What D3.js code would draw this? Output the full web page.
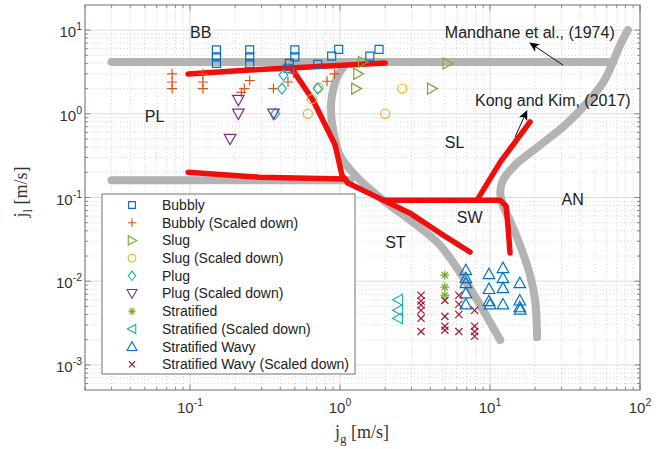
<!DOCTYPE html>
<html>
<head>
<meta charset="utf-8">
<script src="https://cdn.jsdelivr.net/npm/d3@7"></script>
<style>
body { margin: 0; background: #fff; }
text { font-family: "Liberation Sans", Arial, sans-serif; }
</style>
</head>
<body>
<div id="chart"></div>
<script>
// experimental points [jg, jl] in m/s
var bubbly = [[0.15, 5.8], [0.15, 4.8], [0.15, 4.0], [0.25, 5.8], [0.25, 4.8], [0.25, 4.0],
    [0.5, 5.8], [0.5, 4.8], [0.46, 4.0], [0.45, 3.5], [0.71, 3.9], [0.88, 4.9], [0.98, 5.9],
    [1.58, 4.9], [1.82, 5.9]];
var bubblyScaled = [[0.076, 3.0], [0.076, 2.4], [0.076, 2.0], [0.122, 3.0], [0.122, 2.4], [0.122, 2.0],
    [0.25, 2.5], [0.23, 2.0], [0.22, 1.8], [0.36, 2.0], [0.45, 2.4], [0.49, 3.05], [0.82, 2.45], [0.92, 3.0]];
var slug = [[1.42, 4.15], [1.32, 3.0], [1.28, 2.0], [5.2, 4.0], [4.1, 2.0]];
var slugScaled = [[0.65, 1.5], [0.61, 1.0], [0.72, 2.05], [2.6, 2.0], [2.0, 1.0]];
var plug = [[0.42, 2.9], [0.41, 2.0], [0.37, 1.0], [0.71, 2.0]];
var plugScaled = [[0.21, 1.46], [0.21, 1.0], [0.185, 0.5], [0.36, 1.0]];
var stratified = [[5.0, 0.0118], [5.0, 0.0085], [5.0, 0.0068]];
var stratifiedScaled = [[2.44, 0.006], [2.44, 0.0045], [2.44, 0.0036]];
var stratWavy = [[6.9, 0.0136], [6.9, 0.0109], [6.9, 0.0095], [6.9, 0.0072], [6.9, 0.0053],
    [9.85, 0.0122], [9.85, 0.0081], [9.85, 0.0058], [10.0, 0.0053],
    [12.2, 0.0144], [12.2, 0.0109], [12.2, 0.0083], [12.2, 0.0053],
    [15.8, 0.0095], [15.8, 0.0059], [15.8, 0.0049], [15.9, 0.0046]];
var stratWavyScaled = [[3.47, 0.0068], [3.47, 0.0058], [3.47, 0.0052], [3.47, 0.0045], [3.47, 0.0036], [3.47, 0.0025],
    [5.0, 0.0059], [5.0, 0.0038], [5.0, 0.0029], [5.0, 0.0026],
    [6.2, 0.0068], [6.2, 0.0053], [6.2, 0.004], [6.2, 0.0025],
    [7.9, 0.0045], [7.9, 0.0029], [7.9, 0.0025], [7.9, 0.0022]];

// Mandhane et al. (1974) boundaries
var mandhaneTop = [[0.03, 4.15], [66, 4.15]];
var mandhaneLow = [[0.03, 0.161], [1.17, 0.161]];
var mandhaneSL = [[1.13, 4.15], [0.97, 2.9], [0.885, 1.67], [0.87, 1.1], [0.9, 0.64], [1.0, 0.32],
    [1.26, 0.185], [1.94, 0.093], [2.93, 0.0537], [4.64, 0.027], [6.8, 0.0103], [9.0, 0.0045], [11.7, 0.00198]];
var mandhaneAN = [[83, 10], [73.6, 6.6], [66, 4.15], [58, 2.53], [46, 1.46], [31.6, 0.73], [21.5, 0.42],
    [14.7, 0.244], [12.2, 0.161], [11.7, 0.116], [12.2, 0.081], [14.0, 0.047], [16.3, 0.0236],
    [18.5, 0.0118], [20, 0.0059], [20.6, 0.00215]];

// Kong and Kim (2017) boundaries
var kongTop = [[0.097, 2.98], [0.25, 3.33], [0.46, 3.52], [2.0, 4.04]];
var kongDiag = [[0.48, 3.42], [0.66, 1.46], [0.93, 0.42], [1.03, 0.185], [1.13, 0.149]];
var kongLow = [[0.097, 0.20], [0.29, 0.175], [1.08, 0.166]];
var kongSW = [[1.13, 0.149], [1.94, 0.093], [11.7, 0.093], [12.8, 0.079], [13.2, 0.044], [13.6, 0.0217]];
var kongST = [[1.94, 0.093], [2.93, 0.065], [4.64, 0.0376], [7.36, 0.0223]];
var kongAN = [[8.2, 0.093], [11.7, 0.265], [18.5, 0.80]];

var xTicks = [-1, 0, 1, 2];
var yTicks = [-3, -2, -1, 0, 1];

// flow regime labels [text, jg, jl]
var regions = [["BB", 0.1, 9.5], ["PL", 0.05, 0.94], ["SL", 5.0, 0.46], ["AN", 30, 0.096], ["SW", 6.0, 0.058], ["ST", 2.0, 0.029]];

//Define Margin
var margin = {left: 85, right: 27, top: 5, bottom: 59},
    width = 667 - margin.left - margin.right,
    height = 449 - margin.top - margin.bottom;

var svg = d3.select("#chart")
    .append("svg")
    .attr("width", 667)
    .attr("height", 449);

var g = svg.append("g")
    .attr("transform", "translate(" + margin.left + "," + margin.top + ")");

var x = d3.scaleLog().domain([Math.pow(10, -1.7), 100]).range([0, width]);
var y = d3.scaleLog().domain([Math.pow(10, -3.3), Math.pow(10, 1.3)]).range([height, 0]);

g.append("defs").append("clipPath").attr("id", "clip")
    .append("rect").attr("width", width).attr("height", height);

// grid
var minorX = [], minorY = [];
for (var e = -2; e <= 2; e++) {
    for (var k = 2; k <= 9; k++) {
        var v = k * Math.pow(10, e);
        if (v > x.domain()[0] && v < x.domain()[1]) minorX.push(v);
    }
}
for (var e = -4; e <= 1; e++) {
    for (var k = 2; k <= 9; k++) {
        var v = k * Math.pow(10, e);
        if (v > y.domain()[0] && v < y.domain()[1]) minorY.push(v);
    }
}
var majorX = xTicks.map(function (d) { return Math.pow(10, d); });
var majorY = yTicks.map(function (d) { return Math.pow(10, d); });

var grid = g.append("g").attr("class", "grid");
grid.selectAll(".mx").data(minorX).enter().append("line")
    .attr("x1", x).attr("x2", x).attr("y1", 0).attr("y2", height)
    .attr("stroke", "#c8c8c8").attr("stroke-width", 0.8).attr("stroke-dasharray", "1,2.5");
grid.selectAll(".my").data(minorY).enter().append("line")
    .attr("y1", y).attr("y2", y).attr("x1", 0).attr("x2", width)
    .attr("stroke", "#c8c8c8").attr("stroke-width", 0.8).attr("stroke-dasharray", "1,2.5");
grid.selectAll(".gx").data(majorX).enter().append("line")
    .attr("x1", x).attr("x2", x).attr("y1", 0).attr("y2", height)
    .attr("stroke", "#dcdcdc").attr("stroke-width", 1);
grid.selectAll(".gy").data(majorY).enter().append("line")
    .attr("y1", y).attr("y2", y).attr("x1", 0).attr("x2", width)
    .attr("stroke", "#dcdcdc").attr("stroke-width", 1);

// axes, MATLAB style: ticks inside on all four sides
var axisColor = "#6e6e6e";
function tickLines(sel, vals, len, horiz) {
    vals.forEach(function (v) {
        if (horiz) {
            sel.append("line").attr("x1", x(v)).attr("x2", x(v)).attr("y1", height).attr("y2", height - len);
            sel.append("line").attr("x1", x(v)).attr("x2", x(v)).attr("y1", 0).attr("y2", len);
        } else {
            sel.append("line").attr("y1", y(v)).attr("y2", y(v)).attr("x1", 0).attr("x2", len);
            sel.append("line").attr("y1", y(v)).attr("y2", y(v)).attr("x1", width).attr("x2", width - len);
        }
    });
}
var ticks = g.append("g").attr("stroke", axisColor).attr("stroke-width", 0.8);
tickLines(ticks, majorX, 5.5, true);
tickLines(ticks, minorX, 3, true);
tickLines(ticks, majorY, 5.5, false);
tickLines(ticks, minorY, 3, false);

// Mandhane curves (gray)
var line = d3.line()
    .x(function (d) { return x(d[0]); })
    .y(function (d) { return y(d[1]); });
var smooth = d3.line()
    .x(function (d) { return x(d[0]); })
    .y(function (d) { return y(d[1]); })
    .curve(d3.curveCatmullRom);

var curves = g.append("g").attr("clip-path", "url(#clip)").attr("fill", "none")
    .attr("stroke-linecap", "round").attr("stroke-linejoin", "round");
[mandhaneTop, mandhaneLow].forEach(function (c) {
    curves.append("path").attr("d", line(c)).attr("stroke", "#b3b3b3").attr("stroke-width", 8);
});
[mandhaneSL, mandhaneAN].forEach(function (c) {
    curves.append("path").attr("d", smooth(c)).attr("stroke", "#b3b3b3").attr("stroke-width", 8);
});

// Kong and Kim curves (red)
[kongTop, kongDiag, kongLow, kongSW, kongST, kongAN].forEach(function (c) {
    curves.append("path").attr("d", line(c)).attr("stroke", "#f20d0d").attr("stroke-width", 5.5);
});

// marker shapes
function markerPath(type) {
    switch (type) {
        case "square": var r = 4; return "M" + -r + "," + -r + "h" + 2 * r + "v" + 2 * r + "h" + -2 * r + "Z";
        case "plus": var r = 5; return "M" + -r + ",0H" + r + "M0," + -r + "V" + r;
        case "triRight": var r = 5.5; return "M" + r + ",0L" + -0.8 * r + "," + -r + "L" + -0.8 * r + "," + r + "Z";
        case "triLeft": var r = 5.5; return "M" + -r + ",0L" + 0.8 * r + "," + -r + "L" + 0.8 * r + "," + r + "Z";
        case "triUp": var r = 5.8; return "M0," + -r + "L" + r + "," + 0.8 * r + "L" + -r + "," + 0.8 * r + "Z";
        case "triDown": var r = 5.8; return "M0," + r + "L" + r + "," + -0.8 * r + "L" + -r + "," + -0.8 * r + "Z";
        case "circle": var r = 4.6; return "M" + r + ",0A" + r + "," + r + " 0 1,1 " + -r + ",0A" + r + "," + r + " 0 1,1 " + r + ",0Z";
        case "diamond": var r = 5.5; return "M0," + -r + "L" + 0.8 * r + ",0L0," + r + "L" + -0.8 * r + ",0Z";
        case "asterisk": var r = 4.5, s = r * 0.7;
            return "M" + -r + ",0H" + r + "M0," + -r + "V" + r + "M" + -s + "," + -s + "L" + s + "," + s + "M" + -s + "," + s + "L" + s + "," + -s;
        case "cross": var r = 3.6; return "M" + -r + "," + -r + "L" + r + "," + r + "M" + -r + "," + r + "L" + r + "," + -r;
    }
}

var series = [
    {name: "Bubbly", data: bubbly, type: "square", color: "#0072bd"},
    {name: "Bubbly (Scaled down)", data: bubblyScaled, type: "plus", color: "#d95319"},
    {name: "Slug", data: slug, type: "triRight", color: "#77ac30"},
    {name: "Slug (Scaled down)", data: slugScaled, type: "circle", color: "#edb120"},
    {name: "Plug", data: plug, type: "diamond", color: "#1fb0ad"},
    {name: "Plug (Scaled down)", data: plugScaled, type: "triDown", color: "#7e2f8e"},
    {name: "Stratified", data: stratified, type: "asterisk", color: "#77ac30"},
    {name: "Stratified (Scaled down)", data: stratifiedScaled, type: "triLeft", color: "#1fb0ad"},
    {name: "Stratified Wavy", data: stratWavy, type: "triUp", color: "#0072bd"},
    {name: "Stratified Wavy (Scaled down)", data: stratWavyScaled, type: "cross", color: "#a2142f"}
];

var points = g.append("g").attr("fill", "none").attr("stroke-width", 1.2);
series.forEach(function (s) {
    points.selectAll(null).data(s.data).enter().append("path")
        .attr("d", markerPath(s.type))
        .attr("stroke", s.color)
        .attr("transform", function (d) { return "translate(" + x(d[0]) + "," + y(d[1]) + ")"; });
});

// frame
g.append("rect").attr("width", width).attr("height", height)
    .attr("fill", "none").attr("stroke", axisColor).attr("stroke-width", 1);

// tick labels
var labColor = "#333";
xTicks.forEach(function (t) {
    var tx = g.append("text").attr("x", x(Math.pow(10, t))).attr("y", height + 23)
        .attr("text-anchor", "middle").attr("font-size", 15).attr("fill", labColor);
    tx.append("tspan").text("10");
    tx.append("tspan").attr("dy", -7).attr("font-size", 10.5).text(t === -1 ? "-1" : String(t));
});
yTicks.forEach(function (t) {
    var ty = g.append("text").attr("x", -3).attr("y", y(Math.pow(10, t)) + 7)
        .attr("text-anchor", "end").attr("font-size", 15).attr("fill", labColor);
    ty.append("tspan").text("10");
    ty.append("tspan").attr("dy", -7).attr("font-size", 10.5).text(String(t));
});

// axis labels
var serif = "'Liberation Serif', 'Times New Roman', serif";
var xl = svg.append("text").attr("x", 362).attr("y", 438).attr("text-anchor", "middle")
    .attr("font-size", 18).attr("fill", labColor).style("font-family", serif);
xl.append("tspan").text("j");
xl.append("tspan").attr("dy", 5).attr("font-size", 13).text("g");
xl.append("tspan").attr("dy", -5).text(" [m/s]");

var yl = svg.append("text").attr("transform", "translate(27,192) rotate(-90)").attr("text-anchor", "middle")
    .attr("font-size", 18).attr("fill", labColor).style("font-family", serif);
yl.append("tspan").text("j");
yl.append("tspan").attr("dy", 5).attr("font-size", 13).text("l");
yl.append("tspan").attr("dy", -5).text(" [m/s]");

// region labels
g.selectAll(".region").data(regions).enter().append("text")
    .attr("x", function (d) { return x(d[1]); })
    .attr("y", function (d) { return y(d[2]); })
    .attr("dy", "0.35em")
    .attr("font-size", 16).attr("fill", "#222")
    .text(function (d) { return d[0]; });

// annotations with arrows
svg.append("defs").append("marker").attr("id", "arrow")
    .attr("viewBox", "0 0 10 10").attr("refX", 9).attr("refY", 5)
    .attr("markerWidth", 10).attr("markerHeight", 10).attr("orient", "auto")
    .append("path").attr("d", "M0,0.5L10,5L0,9.5L2.5,5Z").attr("fill", "#000");

var notes = [
    {text: "Mandhane et al., (1974)", tx: 5.0, ty: 9.5, from: [30.7, 3.82], to: [18.5, 7.0]},
    {text: "Kong and Kim, (2017)", tx: 7.94, ty: 1.46, from: [14.7, 0.53], to: [17.6, 1.08]}
];
notes.forEach(function (n) {
    g.append("text").attr("x", x(n.tx)).attr("y", y(n.ty)).attr("dy", "0.35em")
        .attr("font-size", 16).attr("fill", "#222").text(n.text);
    g.append("line").attr("x1", x(n.from[0])).attr("y1", y(n.from[1]))
        .attr("x2", x(n.to[0])).attr("y2", y(n.to[1]))
        .attr("stroke", "#111").attr("stroke-width", 1)
        .attr("marker-end", "url(#arrow)");
});

// legend
var legend = g.append("g").attr("transform", "translate(17,189)");
legend.append("rect").attr("width", 253).attr("height", 180)
    .attr("fill", "#fff").attr("stroke", "#707070").attr("stroke-width", 1);
series.forEach(function (s, i) {
    var ly = 11 + i * 17.7;
    legend.append("path").attr("d", markerPath(s.type))
        .attr("transform", "translate(30," + ly + ") scale(0.85)")
        .attr("fill", "none").attr("stroke", s.color).attr("stroke-width", 1.3);
    legend.append("text").attr("x", 60).attr("y", ly).attr("dy", "0.35em")
        .attr("font-size", 14).attr("fill", "#222").text(s.name);
});
</script>
</body>
</html>
